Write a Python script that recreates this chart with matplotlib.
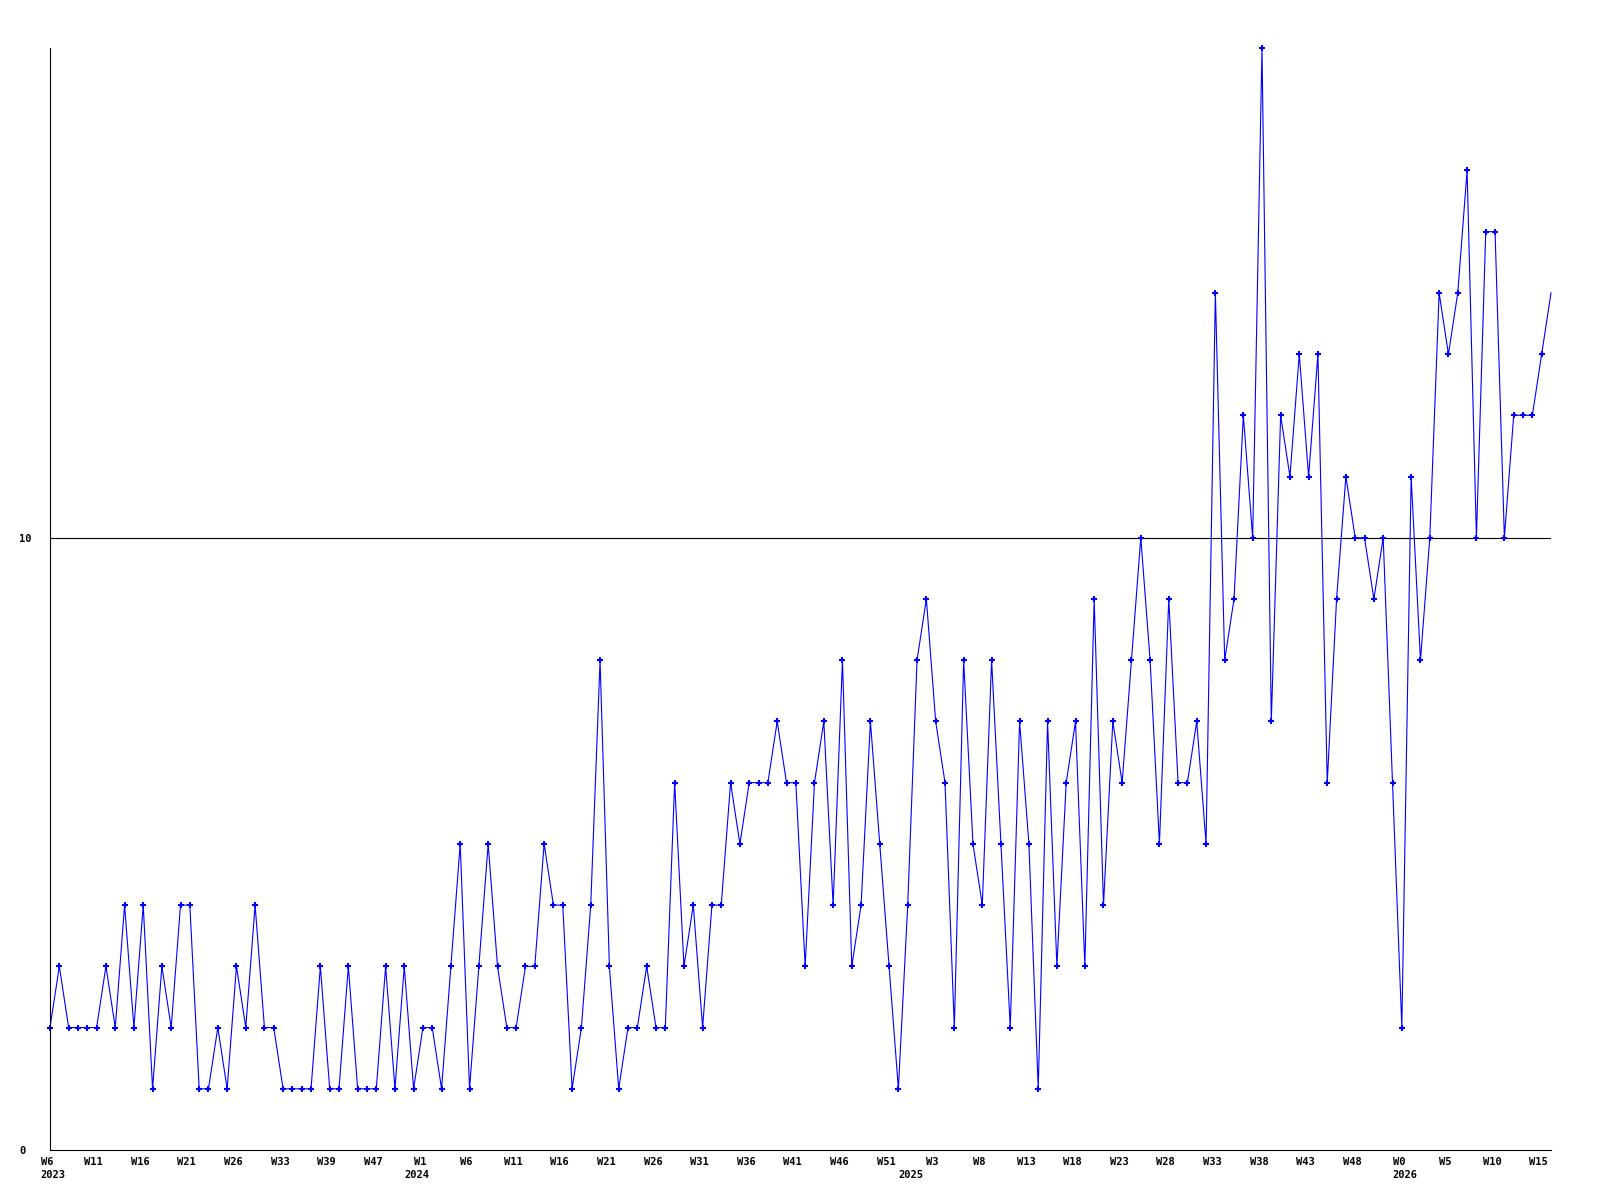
import numpy as np
import matplotlib
matplotlib.use('Agg')
import matplotlib.pyplot as plt
import matplotlib.transforms as mtransforms

# weekly counts, one value per week in the order shown
values = [2, 3, 2, 2, 2, 2, 3, 2, 4, 2, 4, 1, 3, 2, 4, 4, 1, 1, 2, 1, 3, 2, 4, 2, 2, 1, 1, 1, 1, 3,
          1, 1, 3, 1, 1, 1, 3, 1, 3, 1, 2, 2, 1, 3, 5, 1, 3, 5, 3, 2, 2, 3, 3, 5, 4, 4, 1, 2,
          4, 8, 3, 1, 2, 2, 3, 2, 2, 6, 3, 4, 2, 4, 4, 6, 5, 6, 6, 6, 7, 6, 6, 3, 6, 7, 4, 8, 3,
          4, 7, 5, 3, 1, 4, 8, 9, 7, 6, 2, 8, 5, 4, 8, 5, 2, 7, 5, 1, 7, 3, 6, 7, 3, 9, 4, 7, 6,
          8, 10, 8, 5, 9, 6, 6, 7, 5, 14, 8, 9, 12, 10, 18, 7, 12, 11, 13, 11, 13, 6, 9, 11,
          10, 10, 9, 10, 6, 2, 11, 8, 10, 14, 13, 14, 16, 10, 15, 15, 10, 12, 12, 12, 13, 14]

week_labels = ['W6', 'W11', 'W16', 'W21', 'W26', 'W33', 'W39', 'W47',
               'W1', 'W6', 'W11', 'W16', 'W21', 'W26', 'W31', 'W36', 'W41', 'W46', 'W51',
               'W3', 'W8', 'W13', 'W18', 'W23', 'W28', 'W33', 'W38', 'W43', 'W48',
               'W0', 'W5', 'W10', 'W15']
label_step = 5

years = ['2023', '2024', '2025', '2026']
year_start = [0, 39, 92, 145]

y_ticks = [0, 10]
ref_level = 10

x = np.arange(len(values))

fig = plt.figure(figsize=(16, 12), dpi=100)
ax = fig.add_axes([50 / 1600, 50 / 1200, 1501 / 1600, 1102 / 1200])

font = dict(family='DejaVu Sans Mono', weight='bold', size=7.5)

ax.axhline(ref_level, color='black', lw=0.8, zorder=1)
# last week is still running, drawn without a marker
ax.plot(x, values, color='#0000ff', lw=0.8, marker='+', ms=4, mew=1.5,
        markevery=list(range(len(values) - 1)), clip_on=False, zorder=2)

ax.set_xlim(0, len(values) - 1)
ax.set_ylim(0, 18)

for s in ['top', 'right']:
    ax.spines[s].set_visible(False)
for s in ['left', 'bottom']:
    ax.spines[s].set_linewidth(0.8)
    ax.spines[s].set_color('black')

ax.set_xticks(x[::label_step][:len(week_labels)])
ax.set_xticklabels(week_labels, fontdict=font)
ax.set_yticks(y_ticks)
ax.set_yticklabels([str(t) for t in y_ticks], fontdict=font)
ax.tick_params(axis='x', length=0, pad=5)
ax.tick_params(axis='y', length=0, pad=22)

shift = mtransforms.ScaledTranslation(-3 / 100, 0, fig.dpi_scale_trans)
for lbl in ax.get_xticklabels():
    lbl.set_transform(lbl.get_transform() + shift)
for lbl in ax.get_yticklabels():
    lbl.set_horizontalalignment('left')

trans = mtransforms.blended_transform_factory(ax.transData, ax.transAxes)
yshift = mtransforms.ScaledTranslation(3 / 100, 0, fig.dpi_scale_trans)
for yr, pos in zip(years, year_start):
    ax.text(pos, -0.0185, yr, transform=trans + yshift, ha='center', va='top', **font)

fig.savefig('out.png', dpi=100, facecolor='white')
